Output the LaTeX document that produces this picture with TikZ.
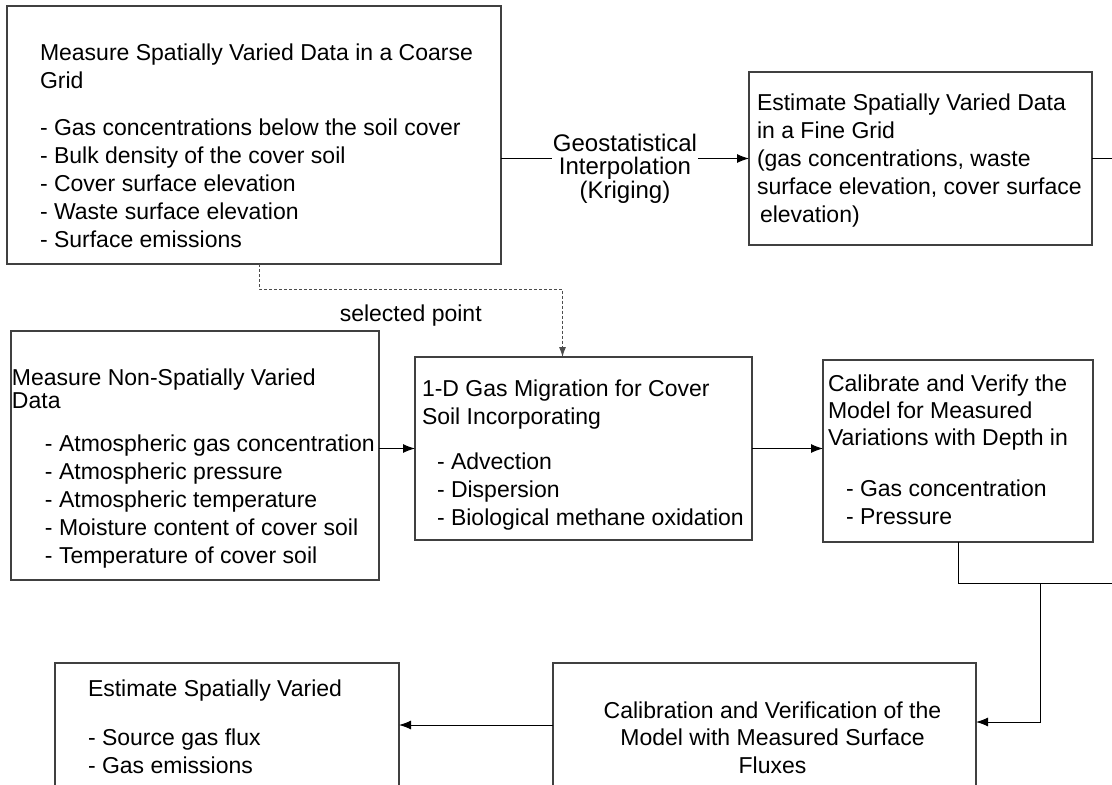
\documentclass[tikz,border=0pt]{standalone}
\usepackage{fontspec}
\setmainfont{Liberation Sans}
\usetikzlibrary{arrows.meta}

% box text: width, height, left pad, first baseline, content
\newcommand{\boxtext}[5]{\parbox[t][#2pt][t]{#1pt}{\raggedright\leftskip=#3pt\relax\rule{0pt}{#4pt}#5}}

\tikzset{
  stage/.style={draw=black!75, line width=1.2pt, inner sep=0pt, outer sep=0pt, anchor=north west},
  flow/.style={draw=black, line width=1pt, -{Latex[length=12pt,width=9pt]}},
  link/.style={draw=black, line width=1pt},
  selline/.style={draw=black!70, line width=0.9pt, dash pattern=on 3pt off 2pt, -{Latex[length=10pt,width=7pt]}},
}

\begin{document}
\begin{tikzpicture}[x=1pt, y=-1pt, font=\fontsize{23}{28}\selectfont]
    \useasboundingbox (0,0) rectangle (1112,785);
    \clip (0,0) rectangle (1112,785);

    % Top row
    \node[stage] (coarse) at (7,6) {\boxtext{494}{258}{33}{54}{Measure Spatially Varied Data in a Coarse\\ Grid\\[19pt]
        - Gas concentrations below the soil cover\\
        - Bulk density of the cover soil\\
        - Cover surface elevation\\
        - Waste surface elevation\\
        - Surface emissions}};
    \node[stage] (fine) at (749,72) {\boxtext{343}{173}{8}{38}{Estimate Spatially Varied Data\\
        in a Fine Grid\\
        (gas concentrations, waste\\
        surface elevation, cover surface\\
        \hspace*{3pt}elevation)}};

    % Middle row
    \node[stage] (nonsp) at (11,331) {\boxtext{368}{249}{1}{54}{Measure Non-Spatially Varied\\[-5pt]
        Data\\[15pt]
        \hspace*{33pt}- Atmospheric gas concentration\\
        \hspace*{33pt}- Atmospheric pressure\\
        \hspace*{33pt}- Atmospheric temperature\\
        \hspace*{33pt}- Moisture content of cover soil\\
        \hspace*{33pt}- Temperature of cover soil}};
    \node[stage] (onedee) at (415,357) {\boxtext{337}{183}{7}{39}{1-D Gas Migration for Cover\\
        Soil Incorporating\\[17pt]
        \hspace*{15pt}- Advection\\
        \hspace*{15pt}- Dispersion\\
        \hspace*{15pt}- Biological methane oxidation}};
    \node[stage] (calib) at (823,360) {\boxtext{270}{182}{5}{31}{Calibrate and Verify the\\[-1pt]
        Model for Measured\\[-1pt]
        Variations with Depth in\\[23pt]
        \hspace*{18pt}- Gas concentration\\
        \hspace*{18pt}- Pressure}};

    % Bottom row (cut off at the page edge)
    \node[stage] (surf) at (553,663) {\parbox[t][140pt][t]{423pt}{\centering\leftskip=16pt plus 1fil\relax
        \rule{0pt}{55pt}Calibration and Verification of the\\[-0.5pt]
        Model with Measured Surface\\[-0.5pt]
        Fluxes}};
    \node[stage] (est) at (55,663) {\boxtext{344}{140}{33}{33}{Estimate Spatially Varied\\[21pt]
        - Source gas flux\\
        - Gas emissions}};

    % Connectors
    \draw[flow] (coarse.east |- fine.west) -- node[fill=white, inner sep=1pt, yshift=-10pt, align=center,
        font=\fontsize{24}{23.5}\selectfont] {Geostatistical\\Interpolation\\(Kriging)} (fine.west);

    \coordinate (pick) at ([xshift=-21pt]onedee.north);
    \draw[selline] ([xshift=5pt]coarse.south) -- ++(0,25) coordinate (bend) -- (bend -| pick)
        node[midway, anchor=north, inner sep=0pt, yshift=-15pt] {selected point} -- (pick);

    \draw[flow] (nonsp.east |- onedee.west) -- (onedee.west);
    \draw[flow] (onedee.east) -- (onedee.east -| calib.west);

    % junction on the right
    \coordinate (jn) at (1040,583);
    \draw[link] (fine.east) -- ++(45,0) |- (jn);
    \draw[link] (calib.south) |- (jn);
    \draw[flow] (jn) |- ([yshift=-59pt]surf.north east);

    \coordinate (fout) at ([yshift=-62pt]surf.north west);
    \draw[flow] (fout) -- (fout -| est.east);
\end{tikzpicture}
\end{document}
